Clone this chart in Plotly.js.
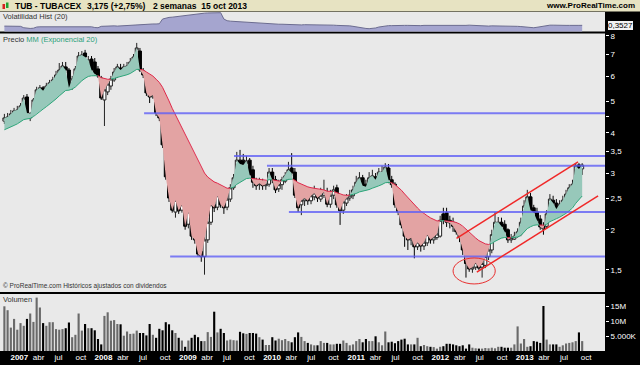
<!DOCTYPE html>
<html>
<head>
<meta charset="utf-8">
<script src="https://cdn.plot.ly/plotly-3.0.1.min.js"></script>
<style>
html,body{margin:0;padding:0;background:#000;overflow:hidden;}
#chart{width:640px;height:365px;}
</style>
</head>
<body>
<div id="chart"></div>
<script>
// ---------- DATA (2-week candles, TUB - TUBACEX) ----------
const startDate = '2006-12-04';
const stepDays = 14;

const openP = [
4.35,4.42,4.48,4.55,4.61,4.71,4.81,5.17,4.45,4.58,
5.06,5.44,5.52,5.44,5.56,5.67,5.76,6.01,6.27,6.41,
6.27,5.56,5.84,6.32,6.88,7.08,6.50,6.78,6.64,6.32,
5.92,5.06,5.36,5.59,5.84,6.09,6.36,6.27,6.36,6.45,
6.59,6.83,7.18,6.23,6.01,5.28,5.17,5.36,4.58,4.45,
3.67,2.96,2.53,2.27,2.49,2.30,2.34,2.08,2.27,1.91,
1.86,1.71,1.65,1.86,2.11,2.39,2.35,2.55,2.42,2.35,
2.49,2.70,2.92,3.29,3.29,3.22,3.29,3.07,2.81,2.76,
2.79,2.74,2.77,3.02,2.86,2.68,2.76,2.83,2.94,3.11,
3.02,2.55,2.39,2.46,2.51,2.46,2.53,2.60,2.49,2.56,
2.62,2.40,2.56,2.70,2.39,2.30,2.42,2.51,2.55,2.66,
2.81,2.90,2.77,2.72,2.86,2.92,2.83,2.98,3.02,3.11,
2.86,2.77,2.39,2.27,2.05,1.91,1.86,1.86,1.77,1.83,
1.78,1.82,1.93,1.86,1.89,1.91,2.24,2.26,2.14,2.11,
2.05,1.95,1.89,1.76,1.58,1.51,1.53,1.58,1.53,1.55,
1.65,1.73,1.91,1.97,2.11,2.08,2.00,1.86,1.87,1.91,
1.94,2.14,2.37,2.53,2.34,2.27,2.16,2.05,2.05,2.24,
2.47,2.42,2.34,2.37,2.46,2.58,2.66,2.76,3.18,3.09];

const highP = [
4.58,4.61,4.71,4.78,4.85,4.95,5.24,5.28,4.64,5.13,
5.56,5.63,5.59,5.72,5.84,5.97,6.23,6.59,6.64,6.64,
6.36,6.01,6.45,7.13,7.18,7.24,6.93,6.93,6.83,6.45,
6.01,5.59,5.84,6.01,6.36,6.55,6.55,6.55,6.64,6.83,
7.03,7.61,7.34,6.36,6.14,5.40,5.44,5.56,4.64,4.51,
3.75,3.07,2.56,2.51,2.55,2.51,2.37,2.39,2.34,2.00,
1.89,1.73,1.91,2.18,2.47,2.47,2.66,2.70,2.51,2.56,
2.77,2.98,3.49,3.54,3.44,3.39,3.34,3.16,2.90,2.90,
2.88,2.83,3.11,3.11,2.94,2.86,2.92,3.02,3.25,3.46,
3.11,2.60,2.55,2.60,2.60,2.66,2.74,2.66,2.70,2.86,
2.70,2.66,2.74,2.76,2.47,2.51,2.58,2.66,2.74,2.94,
3.02,2.96,2.86,3.02,3.07,3.00,3.11,3.16,3.22,3.20,
2.94,2.81,2.44,2.30,2.11,1.97,1.95,1.91,1.89,1.89,
1.89,2.00,1.97,1.97,2.00,2.21,2.34,2.34,2.21,2.18,
2.11,2.00,1.93,1.79,1.63,1.59,1.63,1.61,1.67,1.71,
1.78,2.00,2.27,2.19,2.18,2.14,2.02,1.94,1.97,2.02,
2.18,2.47,2.66,2.60,2.39,2.34,2.22,2.11,2.30,2.58,
2.55,2.49,2.47,2.55,2.66,2.77,2.86,3.22,3.22,3.22];

const lowP = [
4.26,4.35,4.42,4.48,4.55,4.61,4.74,4.55,4.35,4.51,
4.99,5.32,5.32,5.36,5.48,5.59,5.67,5.84,6.09,6.14,
5.44,5.44,5.76,6.23,6.74,6.78,6.41,6.18,6.01,5.92,
5.06,4.20,5.24,5.44,5.76,5.92,6.18,6.18,6.27,6.36,
6.50,6.74,6.18,5.92,5.21,4.95,5.10,4.51,4.35,3.59,
2.86,2.44,2.26,2.18,2.24,2.26,2.00,2.02,1.86,1.81,
1.65,1.59,1.45,1.82,2.07,2.27,2.30,2.34,2.24,2.30,
2.44,2.66,2.86,3.11,3.11,3.11,2.90,2.70,2.66,2.66,
2.66,2.66,2.72,2.79,2.60,2.62,2.66,2.79,2.86,2.94,
2.51,2.27,2.22,2.37,2.39,2.40,2.47,2.44,2.44,2.51,
2.35,2.34,2.49,2.34,2.07,2.24,2.37,2.46,2.49,2.62,
2.77,2.68,2.66,2.66,2.77,2.77,2.77,2.90,2.96,2.79,
2.70,2.34,2.22,2.02,1.77,1.73,1.79,1.63,1.73,1.71,
1.73,1.78,1.81,1.81,1.86,1.89,2.08,2.04,2.02,1.97,
1.93,1.83,1.67,1.42,1.48,1.47,1.50,1.50,1.42,1.52,
1.61,1.69,1.89,1.94,2.00,1.93,1.82,1.82,1.86,1.89,
1.91,2.11,2.34,2.27,2.21,2.08,2.00,1.93,2.01,2.21,
2.37,2.27,2.27,2.34,2.42,2.55,2.62,2.70,2.98,2.96];

const closeP = [
4.45,4.48,4.58,4.68,4.71,4.85,5.13,4.61,4.58,5.06,
5.44,5.52,5.40,5.59,5.72,5.84,6.05,6.27,6.45,6.27,
5.52,5.88,6.32,6.93,6.98,6.88,6.74,6.27,6.09,6.01,
5.13,5.44,5.67,5.88,6.18,6.41,6.27,6.41,6.45,6.64,
6.88,7.34,6.27,6.05,5.32,5.17,5.24,4.61,4.45,3.67,
2.92,2.51,2.30,2.47,2.29,2.39,2.05,2.27,1.91,1.86,
1.68,1.65,1.86,2.11,2.39,2.34,2.55,2.39,2.34,2.49,
2.70,2.90,3.29,3.20,3.18,3.27,2.96,2.81,2.74,2.79,
2.74,2.77,3.02,2.86,2.66,2.76,2.86,2.94,3.07,3.00,
2.56,2.34,2.47,2.51,2.46,2.55,2.60,2.51,2.56,2.62,
2.40,2.56,2.66,2.39,2.29,2.44,2.51,2.56,2.66,2.81,
2.90,2.74,2.72,2.90,2.94,2.86,3.02,3.02,3.13,2.86,
2.76,2.39,2.27,2.07,1.91,1.86,1.89,1.77,1.83,1.78,
1.83,1.93,1.86,1.90,1.94,2.14,2.14,2.11,2.10,2.05,
1.97,1.89,1.73,1.57,1.51,1.53,1.58,1.52,1.57,1.65,
1.73,1.93,2.11,2.11,2.05,1.97,1.86,1.89,1.91,1.97,
2.11,2.37,2.53,2.30,2.26,2.14,2.04,2.01,2.24,2.49,
2.42,2.32,2.40,2.47,2.58,2.70,2.77,3.16,3.09,3.175];

// volume, millions of shares
const volumeM = [
14.9,13.6,7.8,10.7,7.1,9.3,8.4,10.7,12.5,9.7,
17.8,14.5,9.3,8.4,9.6,9.6,7.3,7.1,7.3,7.6,
9.5,4.6,5.4,12.5,6.8,9.0,7.6,7.6,6.9,4.0,
2.2,11.7,12.9,10.1,10.3,9.0,8.9,5.1,6.5,5.7,
5.8,6.8,6.0,6.0,5.2,9.0,5.4,4.4,7.4,6.9,
9.6,8.9,6.9,6.0,4.4,3.5,1.4,3.5,4.4,5.4,
4.6,3.3,3.3,6.3,4.7,13.1,6.2,7.4,6.0,3.5,
3.8,3.6,3.5,6.4,5.9,5.7,6.0,6.0,5.8,4.6,
3.8,2.0,2.0,4.6,3.5,4.1,3.6,4.0,3.3,2.9,
4.6,6.2,4.7,3.3,2.7,2.2,1.9,1.9,3.3,
2.7,2.7,2.2,2.2,2.4,2.4,3.5,2.7,1.9,2.2,
3.3,4.0,2.9,4.0,3.3,3.3,4.9,2.9,1.9,6.5,
2.9,3.1,2.6,3.3,3.8,4.1,2.2,2.2,2.2,4.4,
1.6,2.0,1.6,1.4,1.3,0.8,1.4,1.6,2.4,2.4,
2.2,1.9,1.6,1.9,0.8,2.2,1.1,0.9,0.8,0.8,
1.0,0.9,1.1,0.9,1.4,1.4,1.1,1.1,
1.1,2.2,8.2,2.5,4.0,1.4,1.6,3.3,3.1,2.7,
15.0,3.8,2.2,2.2,2.2,1.4,1.9,2.5,2.7,2.9,
3.3,6.2,3.3];

// historical volatility (20)
const volHist = [
0.32,0.32,0.31,0.32,0.32,0.31,0.25,0.23,0.22,0.23,
0.28,0.29,0.29,0.30,0.29,0.29,0.30,0.31,0.30,0.30,
0.31,0.30,0.30,0.31,0.30,0.30,0.29,0.29,0.26,0.25,
0.31,0.32,0.33,0.33,0.33,0.32,0.33,0.33,0.34,0.34,
0.38,0.39,0.40,0.41,0.41,0.42,0.41,0.41,0.42,0.62,
0.66,0.69,0.70,0.72,0.73,0.75,0.77,0.79,0.81,0.83,
0.85,0.86,0.87,0.88,0.89,0.89,0.90,0.89,0.62,0.55,
0.53,0.52,0.52,0.51,0.50,0.50,0.49,0.48,0.47,0.46,
0.44,0.43,0.42,0.42,0.41,0.40,0.40,0.39,0.39,0.38,
0.38,0.38,0.37,0.38,0.38,0.39,0.38,0.38,0.37,0.37,
0.37,0.36,0.36,0.35,0.35,0.34,0.34,0.33,0.31,0.28,
0.25,0.22,0.22,0.21,0.22,0.24,0.28,0.31,0.33,0.34,
0.34,0.35,0.36,0.36,0.35,0.35,0.34,0.34,0.33,0.34,
0.35,0.35,0.34,0.33,0.33,0.32,0.33,0.33,0.34,0.34,
0.33,0.33,0.34,0.35,0.36,0.35,0.34,0.33,0.33,0.32,
0.32,0.33,0.33,0.34,0.34,0.33,0.32,0.32,0.31,0.31,
0.30,0.28,0.26,0.25,0.25,0.27,0.30,0.33,0.35,0.36,
0.36,0.35,0.35,0.34,0.35,0.35,0.36,0.35,0.35,0.3527];

const emaSeed = 4.05;
const emaPeriod = 20;

// support / resistance lines: start date and price
const hLineStart = ['2008-08-01','2009-08-26','2010-01-16','2010-04-21','2008-11-22'];
const hLinePrice = [4.60, 3.39, 3.16, 2.27, 1.65];
// trend channel
const upperDates = ['2012-04-17','2013-09-26'];
const upperPrices = [1.88, 3.25];
const lowerDates = ['2012-07-14','2013-12-22'];
const lowerPrices = [1.476, 2.55];
const ellipseDates = ['2012-04-02','2012-10-02'];
const ellipsePrices = [1.357, 1.634];

const priceTicks = [1.5,2,2.5,3,3.5,4,4.5,5,6,7,8];
const priceTickText = ['1,5','2','2,5','3','3,5','4','','5','6','7','8'];
const volTicks = [5,10,15];
const volTickText = ['5.000K','10M','15M'];
const years = [2007,2008,2009,2010,2011,2012,2013];
const monthLabels = ['abr','jul','oct'];

// ---------- BUILD ----------
const DAY = 864e5;
const N = closeP.length;
const t0 = Date.parse(startDate);
const t = closeP.map((_, i) => t0 + i * stepDays * DAY);

const xStart = '2006-11-15', xEnd = '2014-01-21';
const W = 640, H = 365, ML = 0, MR = 35, MT = 12, MB = 14;
const PW = W - ML - MR, PH = H - MT - MB;
const fx = px => (px - ML) / PW;
const fy = py => (H - MB - py) / PH;
const msPerPx = (Date.parse(xEnd) - Date.parse(xStart)) / PW;

// EMA
const kEma = 2 / (emaPeriod + 1);
const ema = [];
let e = emaSeed;
for (let i = 0; i < N; i++) { e = e + kEma * (closeP[i] - e); ema.push(e); }

// colour zones between close and EMA
const gX = [], gY = [], rX = [], rY = [], gLX = [], gLY = [], rLX = [], rLY = [];
let run = { t: [t[0]], c: [closeP[0]], e: [ema[0]] };
let sign = closeP[0] >= ema[0] ? 1 : -1;
function flush(s) {
  const X = s > 0 ? gX : rX, Y = s > 0 ? gY : rY, LX = s > 0 ? gLX : rLX, LY = s > 0 ? gLY : rLY;
  X.push(...run.t, ...run.t.slice().reverse(), null);
  Y.push(...run.c, ...run.e.slice().reverse(), null);
  LX.push(...run.t, null); LY.push(...run.e, null);
}
for (let i = 1; i < N; i++) {
  const s = closeP[i] >= ema[i] ? 1 : -1;
  if (s !== sign) {
    const d0 = Math.log(closeP[i-1] / ema[i-1]), d1 = Math.log(closeP[i] / ema[i]);
    const f = d0 / (d0 - d1);
    const tc = t[i-1] + f * (t[i] - t[i-1]);
    const lv = Math.exp(Math.log(ema[i-1]) + f * (Math.log(ema[i]) - Math.log(ema[i-1])));
    run.t.push(tc); run.c.push(lv); run.e.push(lv);
    flush(sign);
    run = { t: [tc], c: [lv], e: [lv] };
    sign = s;
  }
  run.t.push(t[i]); run.c.push(closeP[i]); run.e.push(ema[i]);
}
flush(sign);

const FONT = 'Liberation Sans, Arial, sans-serif';

const traces = [
  { type: 'scatter', mode: 'lines', x: t, y: volHist, xaxis: 'x', yaxis: 'y',
    fill: 'tozeroy', fillcolor: '#a5a5cf', line: { color: '#6c6c90', width: 1 }, hoverinfo: 'skip' },
  { type: 'scatter', mode: 'lines', x: gX, y: gY, xaxis: 'x', yaxis: 'y2', fill: 'toself',
    fillcolor: '#97c8ba', line: { width: 0, color: 'rgba(0,0,0,0)' }, hoverinfo: 'skip' },
  { type: 'scatter', mode: 'lines', x: rX, y: rY, xaxis: 'x', yaxis: 'y2', fill: 'toself',
    fillcolor: '#e3a3a3', line: { width: 0, color: 'rgba(0,0,0,0)' }, hoverinfo: 'skip' },
  { type: 'scatter', mode: 'lines', x: gLX, y: gLY, xaxis: 'x', yaxis: 'y2',
    line: { color: '#2ea67a', width: 1 }, hoverinfo: 'skip' },
  { type: 'scatter', mode: 'lines', x: rLX, y: rLY, xaxis: 'x', yaxis: 'y2',
    line: { color: '#e0284a', width: 1 }, hoverinfo: 'skip' },
  { type: 'candlestick', x: t, open: openP, high: highP, low: lowP, close: closeP,
    xaxis: 'x', yaxis: 'y2', whiskerwidth: 0,
    increasing: { line: { color: '#222', width: 1 }, fillcolor: '#ffffff' },
    decreasing: { line: { color: '#000', width: 1 }, fillcolor: '#000000' },
    hoverinfo: 'skip' },
  { type: 'bar', x: t, y: volumeM, xaxis: 'x', yaxis: 'y3',
    width: stepDays * DAY * 0.66,
    marker: { color: closeP.map((c, i) => c < openP[i] ? '#000000' : '#6a6a6a'), line: { width: 0 } },
    hoverinfo: 'skip' }
];

// x tick labels (left-aligned look)
const tickvals = [], ticktext = [];
const monthIdx = [3, 6, 9];
const monthShiftPx = [7, 6, 7];
years.forEach(y => {
  tickvals.push(Date.UTC(y, 0, 1) + 8.5 * msPerPx);
  ticktext.push('<b>' + y + '</b>');
  monthIdx.forEach((m, j) => {
    tickvals.push(Date.UTC(y, m, 1) + monthShiftPx[j] * msPerPx);
    ticktext.push(monthLabels[j]);
  });
});

const shapes = [
  { type: 'rect', xref: 'paper', yref: 'paper', x0: fx(0), x1: fx(640), y0: fy(11.5), y1: fy(0),
    fillcolor: '#e7e3c2', line: { width: 0 }, layer: 'below' },
  { type: 'rect', xref: 'paper', yref: 'paper', x0: fx(2.5), x1: fx(5), y0: fy(9), y1: fy(4),
    fillcolor: '#d82020', line: { width: 0 } },
  { type: 'rect', xref: 'paper', yref: 'paper', x0: fx(6), x1: fx(8.5), y0: fy(8), y1: fy(2.5),
    fillcolor: '#20a030', line: { width: 0 } }
];
hLinePrice.forEach((p, i) => shapes.push({
  type: 'line', xref: 'x', yref: 'y2', x0: hLineStart[i], x1: xEnd, y0: p, y1: p,
  line: { color: 'rgba(95,95,245,0.8)', width: 2 }, layer: 'above' }));
shapes.push({ type: 'line', xref: 'x', yref: 'y2', x0: upperDates[0], x1: upperDates[1],
  y0: upperPrices[0], y1: upperPrices[1], line: { color: '#f02828', width: 1.5 } });
shapes.push({ type: 'line', xref: 'x', yref: 'y2', x0: lowerDates[0], x1: lowerDates[1],
  y0: lowerPrices[0], y1: lowerPrices[1], line: { color: '#f02828', width: 1.5 } });
shapes.push({ type: 'circle', xref: 'x', yref: 'y2', x0: ellipseDates[0], x1: ellipseDates[1],
  y0: ellipsePrices[0], y1: ellipsePrices[1], line: { color: '#e83030', width: 1 } });

const ann = (txt, px, py, size, color, anchor) => ({
  text: txt, xref: 'paper', yref: 'paper', x: fx(px), y: fy(py), xanchor: anchor || 'left',
  yanchor: 'middle', showarrow: false, font: { family: FONT, size: size, color: color }
});

const annotations = [
  ann('<b>TUB - TUBACEX</b>', 13, 6, 8.5, '#000'),
  ann('<b>3,175 (+2,75%)</b>', 85, 6, 8.5, '#000'),
  ann('<b>2 semanas  15 oct 2013</b>', 151, 6, 8.5, '#000'),
  ann('<b>www.ProRealTime.com</b>', 637, 6, 8, '#000', 'right'),
  ann('Volatilidad Hist (20)', 1, 17, 7.5, '#333'),
  ann('Precio <span style="color:#2aa07a">MM (Exponencial 20)</span>', 1, 39, 7.5, '#333'),
  ann('© ProRealTime.com Históricos ajustados con dividendos', 1, 286, 6.5, '#333'),
  ann('Volumen', 1, 299, 7.5, '#333'),
  { text: '0,3527', xref: 'paper', yref: 'y', x: 1, y: 0.3527, xanchor: 'left', xshift: 2,
    showarrow: false, font: { family: FONT, size: 8, color: '#000' },
    bgcolor: '#f2f2f2', bordercolor: '#000', borderwidth: 1, borderpad: 0 }
];

const layout = {
  width: W, height: H,
  margin: { l: ML, r: MR, t: MT, b: MB, pad: 0 },
  paper_bgcolor: '#000000', plot_bgcolor: '#e9e9e9',
  showlegend: false, dragmode: false,
  boxgap: 0.08, boxgroupgap: 0,
  font: { family: FONT, size: 8, color: '#fff' },
  xaxis: { type: 'date', range: [xStart, xEnd], anchor: 'y3', rangeslider: { visible: false },
    tickvals: tickvals, ticktext: ticktext, ticks: '', showgrid: false, zeroline: false,
    showline: false, tickfont: { family: FONT, size: 8, color: '#fff' }, fixedrange: true },
  yaxis: { domain: [fy(31.5), 1], range: [0.09, 0.92], side: 'right', showticklabels: false,
    ticks: '', showgrid: false, zeroline: false, fixedrange: true },
  yaxis2: { domain: [fy(292), fy(33.5)], type: 'log', range: [Math.log10(1.281), Math.log10(8.14)],
    side: 'right', anchor: 'x', tickvals: priceTicks, ticktext: priceTickText, ticks: 'outside',
    ticklen: 3, tickcolor: '#fff', tickwidth: 1, showgrid: false, zeroline: false, showline: false,
    tickfont: { family: FONT, size: 8, color: '#fff' }, fixedrange: true },
  yaxis3: { domain: [0, fy(294)], range: [0, 19], side: 'right', anchor: 'x',
    tickvals: volTicks, ticktext: volTickText, ticks: 'outside', ticklen: 3, tickcolor: '#fff',
    showgrid: false, zeroline: false, showline: false,
    tickfont: { family: FONT, size: 8, color: '#fff' }, fixedrange: true },
  shapes: shapes,
  annotations: annotations
};

Plotly.newPlot('chart', traces, layout, { staticPlot: true, displayModeBar: false });
</script>
</body>
</html>
